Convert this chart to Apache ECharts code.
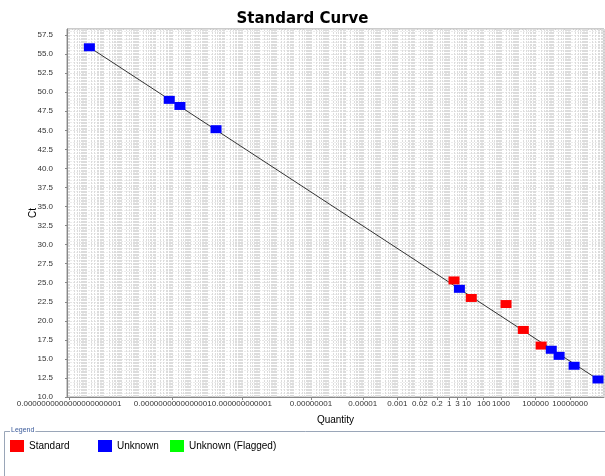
<!DOCTYPE html>
<html>
<head>
<meta charset="utf-8">
<script src="https://cdn.jsdelivr.net/npm/echarts@6/dist/echarts.min.js"></script>
<style>
html,body{margin:0;padding:0;background:#fff;}
#chart{width:605px;height:476px;}
</style>
</head>
<body>
<div id="chart"></div>
<script>
// ---- data ----
const tickQuantities = [1e-22, 1e-16, 1e-12, 1e-8, 1e-5, 0.001, 0.02, 0.2, 1, 3, 10, 100, 1000, 100000, 10000000];
const tickLabels = ["0.0000000000000000000001", "0.0000000000000001", "0.000000000001", "0.00000001", "0.00001", "0.001", "0.02", "0.2", "1", "3", "10", "100", "1000", "100000", "10000000"];
const ctTicks = [10, 12.5, 15, 17.5, 20, 22.5, 25, 27.5, 30, 32.5, 35, 37.5, 40, 42.5, 45, 47.5, 50, 52.5, 55, 57.5];

const standardQuantity = [1.9, 19, 1950, 19500, 210000];
const standardCt = [25.3, 23.0, 22.2, 18.8, 16.75];

const unknownQuantity = [1.5e-21, 6.3e-17, 2.6e-16, 3.2e-14, 3.9, 810000, 2300000, 17000000, 410000000];
const unknownCt = [55.9, 49.0, 48.2, 45.15, 24.2, 16.2, 15.4, 14.1, 12.3];

const flaggedQuantity = [];
const flaggedCt = [];

const fitQuantity = [1.5e-21, 410000000];
const fitCt = [55.9, 12.3];

// ---- build options ----
const lg = Math.log10;
const pairs = (q, c) => q.map((v, i) => [lg(v), c[i]]);
const tickExp = tickQuantities.map(lg);
function labelFor(v) {
  let best = -1, d = 1e9;
  tickExp.forEach((e, i) => { if (Math.abs(e - v) < d) { d = Math.abs(e - v); best = i; } });
  return d < 0.01 ? tickLabels[best] : '';
}
// minor log grid positions (k * 10^n)
const minorGrid = [];
for (let n = -23; n <= 9; n++) for (let k = 1; k <= 9; k++) minorGrid.push(lg(k) + n);

const xMin = -22.12, xMax = 8.96;
const font = 'Liberation Sans, Arial, sans-serif';
const legendText = {fontFamily: font, fontSize: 10, color: '#000'};

const chart = echarts.init(document.getElementById('chart'), null, {renderer: 'canvas'});
chart.setOption({
  animation: false,
  backgroundColor: '#fff',
  title: {
    text: 'Standard Curve', left: 'center', top: 7,
    textStyle: {fontFamily: 'DejaVu Sans, sans-serif', fontWeight: 'bold', fontSize: 15, color: '#000'}
  },
  grid: {left: 67, right: 1, top: 29, bottom: 79, show: true, borderColor: '#999', borderWidth: 1, backgroundColor: '#fff'},
  legend: [
    {data: ['Standard'], left: 10, top: 440, padding: 0, icon: 'rect', itemWidth: 14, itemHeight: 12, itemGap: 3, itemStyle: {opacity: 1}, textStyle: legendText},
    {data: ['Unknown'], left: 98, top: 440, padding: 0, icon: 'rect', itemWidth: 14, itemHeight: 12, itemStyle: {opacity: 1}, textStyle: legendText},
    {data: ['Unknown (Flagged)'], left: 170, top: 440, padding: 0, icon: 'rect', itemWidth: 14, itemHeight: 12, itemStyle: {opacity: 1}, textStyle: legendText}
  ],
  graphic: [
    {type: 'rect', shape: {x: 4.5, y: 431.5, width: 620, height: 60}, style: {fill: 'none', stroke: '#9aa6b8', lineWidth: 1}, z: 1},
    {type: 'text', x: 10, y: 427, style: {text: 'Legend', fontSize: 7, fontFamily: font, fill: '#3a5a9a', backgroundColor: '#fff', padding: [0, 1]}, z: 2}
  ],
  xAxis: [
    {
      type: 'value', min: xMin, max: xMax,
      name: 'Quantity', nameLocation: 'middle', nameGap: 18, nameMoveOverlap: false,
      nameTextStyle: {fontFamily: font, fontSize: 10, color: '#000'},
      axisLine: {show: true, onZero: false, lineStyle: {color: '#888'}},
      axisTick: {show: true, customValues: tickExp, length: 3, lineStyle: {color: '#888'}},
      axisLabel: {customValues: tickExp, formatter: v => labelFor(v), fontFamily: font, fontSize: 8, color: '#333', margin: 3},
      splitLine: {show: false}
    },
    {
      type: 'value', min: xMin, max: xMax, position: 'bottom',
      axisLine: {show: false, onZero: false}, axisLabel: {show: false},
      axisTick: {show: false, customValues: minorGrid},
      splitLine: {show: true, lineStyle: {color: '#dcdcdc', type: [2, 1], width: 1}}
    }
  ],
  yAxis: {
    type: 'value', min: 10, max: 58.3, interval: 2.5,
    name: 'Ct', nameLocation: 'middle', nameGap: 29, nameMoveOverlap: false,
    nameTextStyle: {fontFamily: font, fontSize: 10, color: '#000'},
    axisLine: {show: true, onZero: false, lineStyle: {color: '#888'}},
    axisTick: {show: true, length: 2, lineStyle: {color: '#888'}},
    axisLabel: {formatter: v => v.toFixed(1), showMaxLabel: false, fontFamily: font, fontSize: 8, color: '#333', margin: 14},
    splitLine: {show: true, lineStyle: {color: '#e4e4e4', type: [2, 1]}},
    minorTick: {show: false, splitNumber: 5},
    minorSplitLine: {show: true, lineStyle: {color: '#ececec', type: [2, 1]}}
  },
  series: [
    {type: 'line', name: 'fit', data: pairs(fitQuantity, fitCt), showSymbol: false, symbol: 'none',
     lineStyle: {color: '#333', width: 1}, z: 2, silent: true},
    {type: 'scatter', name: 'Standard', data: pairs(standardQuantity, standardCt), symbol: 'rect', symbolSize: [11, 8],
     itemStyle: {color: '#ff0000', opacity: 1}, z: 3},
    {type: 'scatter', name: 'Unknown', data: pairs(unknownQuantity, unknownCt), symbol: 'rect', symbolSize: [11, 8],
     itemStyle: {color: '#0000ff', opacity: 1}, z: 4},
    {type: 'scatter', name: 'Unknown (Flagged)', data: pairs(flaggedQuantity, flaggedCt), symbol: 'rect', symbolSize: [11, 8],
     itemStyle: {color: '#00ff00', opacity: 1}, z: 4}
  ]
});
</script>
</body>
</html>
